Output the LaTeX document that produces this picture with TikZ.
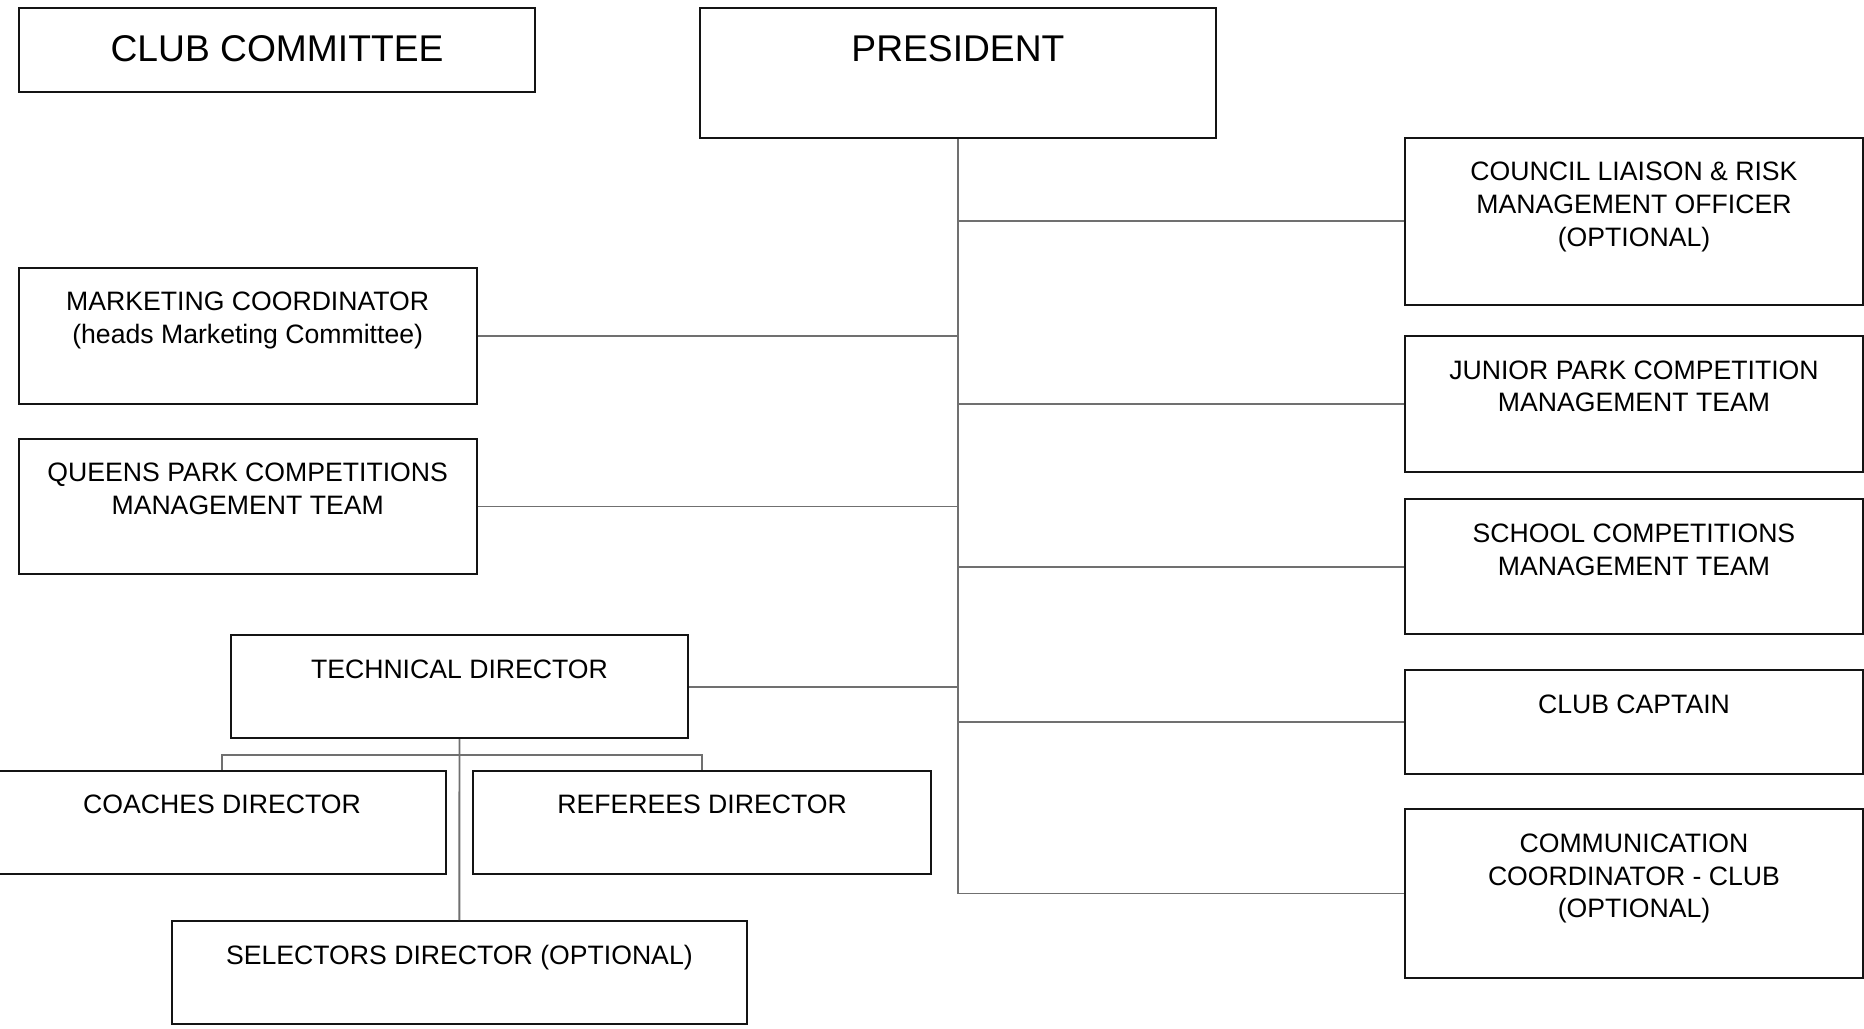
\documentclass[tikz,border=0pt]{standalone}
\usepackage{fontspec}
\setmainfont{Liberation Sans}
\usetikzlibrary{calc}
\definecolor{conn}{RGB}{112,112,112}
\definecolor{edge}{RGB}{20,20,20}
\tikzset{
  orgbox/.style={draw=edge, line width=1.6pt, rectangle, inner sep=0pt, fill=white},
  small/.style={anchor=north, inner sep=0pt, align=center, font=\fontsize{22.4}{27.4}\selectfont},
  big/.style={anchor=north, inner sep=0pt, align=center, font=\fontsize{31.3}{37}\selectfont},
  link/.style={draw=conn, line width=1.6pt}
}
\begin{document}
\begin{tikzpicture}[x=1pt,y=-1pt]
\useasboundingbox (0,0) rectangle (1568,864.8);
\fill[white] (0,0) rectangle (1568,864.8);

% boxes
\node[orgbox, minimum width=434.5pt, minimum height=70.3pt, anchor=north west] (cc) at (15,6.2) {};
\node[orgbox, minimum width=434pt, minimum height=108.8pt, anchor=north west] (pres) at (588,6.2) {};
\node[orgbox, minimum width=385pt, minimum height=140.7pt, anchor=north west] (council) at (1181.2,115) {};
\node[orgbox, minimum width=385pt, minimum height=114.1pt, anchor=north west] (junior) at (1181.2,281.8) {};
\node[orgbox, minimum width=385pt, minimum height=113.6pt, anchor=north west] (school) at (1181.2,419.2) {};
\node[orgbox, minimum width=385pt, minimum height=87.2pt, anchor=north west] (captain) at (1181.2,562.8) {};
\node[orgbox, minimum width=385pt, minimum height=141.6pt, anchor=north west] (comm) at (1181.2,680) {};
\node[orgbox, minimum width=385.1pt, minimum height=115pt, anchor=north west] (mkt) at (15,224.3) {};
\node[orgbox, minimum width=385.1pt, minimum height=114.1pt, anchor=north west] (queens) at (15,368.2) {};
\node[orgbox, minimum width=385pt, minimum height=86.9pt, anchor=north west] (tech) at (193.2,533.3) {};
\node[orgbox, minimum width=376.6pt, minimum height=87pt, anchor=north west] (coaches) at (-2.4,647.4) {};
\node[orgbox, minimum width=385.1pt, minimum height=87pt, anchor=north west] (referees) at (397.2,647.4) {};
\node[orgbox, minimum width=484.1pt, minimum height=86.9pt, anchor=north west] (selectors) at (143.6,773.9) {};

% connectors
\draw[link] (pres.south) |- (comm.west);
\draw[link] (council.west) -- (council.west -| pres.south);
\draw[link] (junior.west) -- (junior.west -| pres.south);
\draw[link] (school.west) -- (school.west -| pres.south);
\draw[link] (captain.west) -- (captain.west -| pres.south);
\draw[link] (mkt.east) -- (mkt.east -| pres.south);
\draw[link] (queens.east) -- (queens.east -| pres.south);
\draw[link] (tech.east) -- (tech.east -| pres.south);
\draw[link] (tech.south) -- (selectors.north);
\coordinate (bar) at ($(tech.south)+(0,13.2)$);
\draw[link] (coaches.north) |- (bar) -| (referees.north);

% texts
\node[big] (tcc) at ($(cc.north)+(0,23.3)$) {CLUB COMMITTEE};
\node[big] (tpres) at ($(pres.north)+(0,23.3)$) {PRESIDENT};
\node[small] (tcouncil) at ($(council.north)+(0,21.3)$) {COUNCIL LIAISON \& RISK\\MANAGEMENT OFFICER\\(OPTIONAL)};
\node[small] (tjunior) at ($(junior.north)+(0,21.3)$) {JUNIOR PARK COMPETITION\\MANAGEMENT TEAM};
\node[small] (tschool) at ($(school.north)+(0,21.3)$) {SCHOOL COMPETITIONS\\MANAGEMENT TEAM};
\node[small] (tcaptain) at ($(captain.north)+(0,21.3)$) {CLUB CAPTAIN};
\node[small] (tcomm) at ($(comm.north)+(0,21.3)$) {COMMUNICATION\\COORDINATOR - CLUB\\(OPTIONAL)};
\node[small] (tmkt) at ($(mkt.north)+(0,21.3)$) {MARKETING COORDINATOR\\(heads Marketing Committee)};
\node[small] (tqueens) at ($(queens.north)+(0,21.3)$) {QUEENS PARK COMPETITIONS\\MANAGEMENT TEAM};
\node[small] (ttech) at ($(tech.north)+(0,21.3)$) {TECHNICAL DIRECTOR};
\node[small] (tcoaches) at ($(coaches.north)+(0,21.3)$) {COACHES DIRECTOR};
\node[small] (treferees) at ($(referees.north)+(0,21.3)$) {REFEREES DIRECTOR};
\node[small] (tselectors) at ($(selectors.north)+(0,21.0)$) {SELECTORS DIRECTOR (OPTIONAL)};
\end{tikzpicture}
\end{document}
